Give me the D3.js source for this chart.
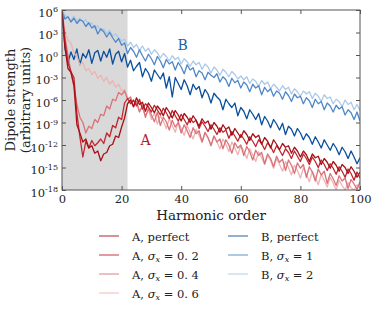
<!DOCTYPE html>
<html>
<head>
<meta charset="utf-8">
<script src="https://d3js.org/d3.v7.min.js"></script>
<style>
  body { margin: 0; background: #fff; }
  svg text { font-family: "DejaVu Serif", serif; fill: #222; }
</style>
</head>
<body>
<div id="chart"></div>
<script>
// harmonic orders 0..100
var harmonics = d3.range(0, 101);

// log10 of dipole strength at each harmonic order
var bPerfect = [
  5.9, 0.9, -1.0, 0.4, -0.6, 0.8, -1.3, 0.2, -0.4, 0.7,
  -1.1, 0.3, 0.6, -0.8, 0.5, -0.3, 0.8, -1.2, 0.1, 0.5,
  -0.9, 0.2, -1.6, -0.7, -2.1, -1.5, -1.0, -2.9, -1.8, -2.4,
  -3.5, -2.0, -2.6, -3.2, -2.4, -4.4, -2.9, -5.6, -3.0, -3.8,
  -4.6, -3.3, -4.1, -5.3, -3.9, -4.6, -4.2, -5.7, -4.6, -5.2,
  -6.4, -5.1, -5.6, -6.0, -7.3, -5.9, -6.5, -7.0, -6.4, -8.1,
  -7.0, -7.5, -8.5, -7.3, -7.9, -8.6, -7.8, -9.3, -8.2, -8.8,
  -9.7, -8.6, -9.2, -10.0, -9.1, -10.6, -9.5, -9.9, -10.8, -9.8,
  -10.4, -11.3, -10.5, -11.0, -11.9, -10.9, -11.6, -12.4, -11.3, -12.0,
  -12.7, -11.8, -12.4, -13.3, -12.3, -12.9, -13.8, -12.8, -13.6, -14.5,
  -13.7];
var bSig1 = [
  5.9, 4.8, 5.1, 4.4, 4.9, 4.2, 4.7, 4.5, 3.8, 4.3,
  3.6, 3.9, 2.8, 3.5, 3.1, 2.4, 3.0, 2.3, 1.7, 2.2,
  1.3, 1.6, 0.2, 1.0, 0.5, -0.3, 0.7, -0.1, -0.8, 0.1,
  -0.5, -1.3, -0.2, -0.8, -1.7, -0.6, -1.2, -0.9, -2.0, -1.0,
  -1.6, -2.5, -1.3, -2.0, -1.7, -2.9, -2.1, -2.4, -3.3, -2.3,
  -2.7, -3.0, -2.5, -3.6, -2.9, -3.3, -4.2, -3.1, -3.7, -3.4,
  -4.4, -3.6, -4.0, -4.9, -3.9, -4.4, -4.1, -5.3, -4.3, -4.9,
  -4.5, -5.5, -4.8, -5.1, -5.9, -4.9, -5.4, -6.2, -5.2, -5.7,
  -5.5, -6.5, -5.7, -6.1, -7.0, -5.9, -6.5, -6.2, -7.3, -6.4,
  -6.8, -7.6, -6.7, -7.2, -6.9, -8.0, -7.3, -7.7, -8.6, -7.6,
  -8.8];
var bSig2 = [
  6.0, 5.3, 5.0, 4.6, 5.2, 4.5, 4.9, 4.4, 4.7, 4.0,
  4.3, 3.5, 3.9, 3.2, 3.5, 2.8, 3.3, 2.5, 2.8, 2.3,
  1.9, 2.1, 1.2, 1.7, 1.0, 1.4, 0.6, 1.2, 0.5, 0.9,
  0.1, 0.7, 0.3, -0.4, 0.2, -0.2, -0.8, -0.1, -0.6, -0.3,
  -1.2, -0.5, -0.9, -1.5, -0.8, -1.3, -1.0, -1.9, -1.2, -1.6,
  -2.4, -1.6, -2.0, -2.7, -1.9, -2.3, -2.9, -2.2, -2.6, -3.2,
  -2.8, -3.3, -2.9, -3.8, -3.2, -3.5, -4.2, -3.4, -3.9, -3.6,
  -4.5, -3.9, -4.3, -4.8, -4.1, -4.6, -4.3, -5.2, -4.5, -4.9,
  -5.5, -4.8, -5.2, -4.9, -5.8, -5.1, -5.5, -6.2, -5.3, -5.8,
  -5.6, -6.5, -5.9, -6.2, -6.9, -6.0, -6.6, -6.3, -7.3, -6.6,
  -7.4];
var aPerfect = [
  6.0, 1.0, -1.8, -2.3, -4.0, -9.3, -10.4, -11.6, -11.2, -12.4,
  -12.1, -13.1, -12.8, -14.1, -13.2, -13.0, -12.1, -11.9, -10.8, -11.0,
  -9.6, -8.4, -6.5, -6.0, -6.9, -5.7, -6.6, -6.3, -7.5, -6.4,
  -7.0, -7.7, -6.8, -7.3, -8.1, -7.0, -7.6, -8.4, -7.4, -8.0,
  -8.8, -7.8, -8.3, -9.0, -8.1, -8.7, -9.5, -8.5, -9.1, -8.8,
  -9.9, -9.0, -9.5, -10.3, -9.3, -9.9, -9.6, -10.7, -9.8, -10.4,
  -11.0, -10.1, -10.6, -11.4, -10.5, -11.0, -10.7, -11.9, -11.0, -11.5,
  -12.4, -11.3, -11.9, -12.6, -11.8, -12.3, -12.1, -13.1, -12.3, -12.8,
  -13.6, -12.8, -13.3, -14.2, -13.2, -13.7, -13.5, -14.6, -13.8, -14.3,
  -15.1, -14.2, -14.7, -15.5, -14.6, -15.0, -15.8, -14.9, -15.5, -16.3,
  -15.6];
var aSig02 = [
  6.0, 1.8, -1.0, -2.2, -3.0, -7.8, -10.9, -13.6, -11.5, -12.4,
  -11.4, -12.1, -11.7, -11.2, -11.8, -10.4, -10.9, -9.4, -9.7, -8.3,
  -8.6, -6.4, -5.8, -6.5, -6.0, -6.8, -5.9, -7.2, -6.5, -6.9,
  -7.6, -6.7, -7.3, -8.0, -7.1, -7.7, -8.5, -7.4, -8.1, -8.8,
  -7.9, -8.6, -9.3, -8.4, -9.0, -8.7, -9.8, -8.9, -9.5, -10.2,
  -9.3, -9.9, -10.6, -9.7, -10.3, -10.0, -11.1, -10.2, -10.8, -11.5,
  -10.6, -11.2, -11.9, -10.9, -11.5, -12.2, -11.3, -11.8, -12.6, -11.7,
  -12.2, -13.0, -12.1, -12.7, -13.4, -12.5, -13.0, -13.8, -12.8, -13.5,
  -14.2, -13.2, -13.8, -14.6, -13.6, -14.2, -15.0, -14.0, -14.6, -15.4,
  -14.5, -15.1, -15.9, -14.9, -15.5, -16.3, -15.2, -15.8, -16.7, -15.6,
  -16.4];
var aSig04 = [
  6.0, 2.4, 0.0, -2.3, -4.2, -6.6, -8.3, -9.0, -10.4, -9.5,
  -9.8, -8.6, -9.0, -7.9, -8.1, -6.8, -7.2, -5.9, -6.1, -5.0,
  -5.3, -4.8, -5.9, -5.6, -6.9, -6.2, -7.6, -6.7, -8.3, -7.1,
  -8.0, -8.9, -7.6, -9.4, -8.3, -8.9, -10.0, -8.7, -9.6, -9.0,
  -10.4, -9.3, -10.1, -11.0, -9.7, -10.5, -10.1, -11.6, -10.3, -11.0,
  -12.1, -10.8, -11.6, -11.2, -12.5, -11.3, -12.0, -13.1, -11.7, -12.4,
  -12.0, -13.4, -12.2, -12.9, -14.0, -12.7, -13.4, -13.0, -14.5, -13.2,
  -13.8, -14.9, -13.5, -14.3, -13.9, -15.4, -14.0, -14.7, -15.8, -14.4,
  -15.1, -14.6, -16.3, -14.9, -15.6, -16.8, -15.2, -16.0, -15.5, -17.1,
  -15.8, -16.5, -17.4, -16.1, -16.8, -16.4, -17.8, -16.6, -17.2, -17.9,
  -16.9];
var aSig06 = [
  6.0, 3.1, 2.0, 1.6, 0.3, -0.2, -1.3, -1.0, -2.1, -1.8,
  -2.6, -2.2, -3.1, -2.7, -3.5, -3.0, -3.9, -3.4, -4.3, -3.9,
  -4.8, -4.6, -5.7, -5.9, -6.8, -6.3, -7.5, -7.0, -8.1, -7.3,
  -8.6, -7.7, -9.2, -8.1, -8.8, -9.8, -8.5, -9.4, -10.3, -8.9,
  -9.8, -10.7, -9.4, -10.3, -11.2, -9.9, -10.7, -11.6, -10.4, -11.1,
  -12.0, -10.8, -11.6, -12.5, -11.2, -11.9, -12.9, -11.6, -12.4, -13.3,
  -12.1, -12.8, -13.8, -12.5, -13.3, -14.2, -12.9, -13.7, -14.6, -13.4,
  -14.1, -15.1, -13.8, -14.6, -15.5, -14.2, -15.0, -16.0, -14.7, -15.4,
  -16.4, -15.1, -15.9, -16.9, -15.5, -16.3, -17.3, -15.9, -16.7, -17.6,
  -16.3, -17.1, -18.0, -16.7, -17.4, -18.0, -17.0, -17.7, -18.0, -17.3,
  -17.8];

var seriesNames = ["A, perfect", "A, σ=0.2", "A, σ=0.4", "A, σ=0.6", "B, perfect", "B, σ=1", "B, σ=2"];
var seriesValues = [aPerfect, aSig02, aSig04, aSig06, bPerfect, bSig1, bSig2];
var seriesColors = ["#a50f15", "#c0262f", "#d9737a", "#eeb3b3", "#0a4f9e", "#4f87c6", "#a9c9e8"];
var sigmaLabels = [null, "0.2", "0.4", "0.6", null, "1", "2"];

var xTicks = [0, 20, 40, 60, 80, 100];
var yExponents = [6, 3, 0, -3, -6, -9, -12, -15, -18];
var shadeRange = [0, 22];

var W = 374, H = 310;
var margin = {top: 10, right: 14, bottom: 120, left: 62};
var width = W - margin.left - margin.right;
var height = H - margin.top - margin.bottom;

var svg = d3.select("#chart").append("svg")
  .attr("width", W).attr("height", H);
var g = svg.append("g")
  .attr("transform", "translate(" + margin.left + "," + margin.top + ")");

var xScale = d3.scaleLinear().domain([0, 100]).range([0, width]);
var yScale = d3.scaleLog().domain([1e-18, 1e6]).range([height, 0]);

g.append("defs").append("clipPath").attr("id", "clip")
  .append("rect").attr("width", width).attr("height", height);

// shaded region
g.append("rect")
  .attr("x", xScale(shadeRange[0]))
  .attr("y", 0)
  .attr("width", xScale(shadeRange[1]) - xScale(shadeRange[0]))
  .attr("height", height)
  .style("fill", "#d9d9d9");

var line = d3.line()
  .x(function(d, i) { return xScale(harmonics[i]); })
  .y(function(d) { return yScale(Math.pow(10, d)); });

// lightest first so darker curves sit on top
var drawOrder = [6, 5, 4, 3, 2, 1, 0];
var curves = g.append("g").attr("clip-path", "url(#clip)");
drawOrder.forEach(function(k) {
  curves.append("path")
    .datum(seriesValues[k])
    .attr("d", line)
    .style("fill", "none")
    .style("stroke", seriesColors[k])
    .style("stroke-width", 1.3)
    .style("stroke-linejoin", "round");
});

// axes, ticks pointing inward on all four sides
var tickVals = yExponents.map(function(e) { return Math.pow(10, e); });

var xAxis = g.append("g")
  .attr("transform", "translate(0," + height + ")")
  .call(d3.axisBottom(xScale).tickValues(xTicks).tickSizeInner(-4).tickSizeOuter(0).tickPadding(5));
g.append("g")
  .call(d3.axisTop(xScale).tickValues(xTicks).tickSizeInner(-4).tickSizeOuter(0).tickFormat(""));
var yAxis = g.append("g")
  .call(d3.axisLeft(yScale).tickValues(tickVals).tickSizeInner(-4).tickSizeOuter(0).tickPadding(6).tickFormat(""));
g.append("g")
  .attr("transform", "translate(" + width + ",0)")
  .call(d3.axisRight(yScale).tickValues(tickVals).tickSizeInner(-4).tickSizeOuter(0).tickFormat(""));

g.selectAll(".domain").remove();
g.selectAll(".tick line").style("stroke", "#555");
g.append("rect")
  .attr("width", width).attr("height", height)
  .style("fill", "none").style("stroke", "#555").style("stroke-width", 1);

xAxis.selectAll("text")
  .attr("y", 5).attr("dy", "0.71em")
  .style("font-size", "11.5px").style("font-family", "DejaVu Serif").style("fill", "#222");

// y tick labels as 10 with superscript exponents
yAxis.selectAll(".tick").each(function(d, i) {
  var t = d3.select(this).select("text");
  t.text(null)
    .attr("x", -4).attr("dy", "0.55em")
    .style("font-size", "11.5px").style("font-family", "DejaVu Serif").style("fill", "#222")
    .style("text-anchor", "end");
  t.append("tspan").text("10");
  t.append("tspan").text(String(yExponents[i]))
    .attr("dy", "-0.55em").style("font-size", "8px");
});

// axis titles
g.append("text")
  .attr("x", width / 2).attr("y", height + 30)
  .style("text-anchor", "middle").style("font-size", "13.5px")
  .text("Harmonic order");
svg.append("text")
  .attr("transform", "translate(15," + (margin.top + height / 2) + ") rotate(-90)")
  .style("text-anchor", "middle").style("font-size", "13px")
  .text("Dipole strength");
svg.append("text")
  .attr("transform", "translate(30," + (margin.top + height / 2) + ") rotate(-90)")
  .style("text-anchor", "middle").style("font-size", "13px")
  .text("(arbitrary units)");

// curve annotations
g.append("text")
  .attr("x", xScale(28)).attr("y", yScale(1e-12))
  .style("font-size", "14px").style("fill", "#b2182b").style("text-anchor", "middle")
  .text("A");
g.append("text")
  .attr("x", xScale(40.5)).attr("y", yScale(Math.pow(10, 0.7)))
  .style("font-size", "14px").style("fill", "#1d5fa8").style("text-anchor", "middle")
  .text("B");

// legend in two columns
var legend = svg.append("g");
var rowH = 19, legTop = 236;
seriesNames.forEach(function(name, k) {
  var col = k < 4 ? 0 : 1;
  var row = k < 4 ? k : k - 4;
  var lx = col === 0 ? 99 : 228;
  var ly = legTop + row * rowH;
  legend.append("line")
    .attr("x1", lx).attr("x2", lx + 20).attr("y1", ly).attr("y2", ly)
    .style("stroke", seriesColors[k]).style("stroke-width", 1.5).style("opacity", 0.6);
  var t = legend.append("text")
    .attr("x", lx + 33).attr("y", ly + 4.5)
    .style("font-size", "11.5px");
  var prefix = name.split(",")[0];
  if (sigmaLabels[k] === null) {
    t.text(name);
  } else {
    t.append("tspan").text(prefix + ", ");
    t.append("tspan").text("σ").style("font-style", "italic");
    t.append("tspan").text("x").style("font-style", "italic").style("font-size", "8px").attr("dy", "2.5");
    t.append("tspan").text(" = " + sigmaLabels[k].replace(".", ". ")).attr("dy", "-2.5");
  }
});
</script>
</body>
</html>
